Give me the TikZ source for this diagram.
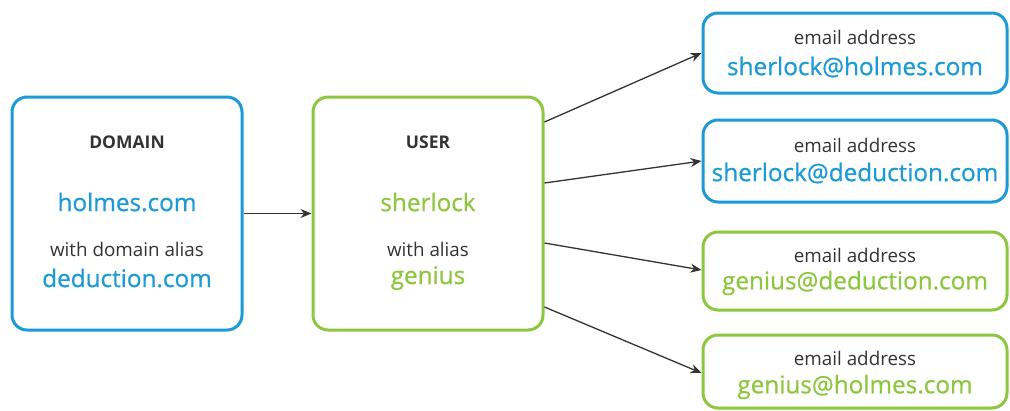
\documentclass[tikz,border=0pt]{standalone}
\usepackage{fontspec}
\setmainfont{Open Sans}
\newfontfamily\heavier{Open Sans}[FakeBold=0.7]
\usetikzlibrary{arrows.meta}
\definecolor{blu}{HTML}{1C9AD6}
\definecolor{grn}{HTML}{8DC63F}
\definecolor{txt}{HTML}{333333}
\tikzset{
  box/.style={draw, line width=3pt, rounded corners=15pt, inner sep=0pt},
  bluebox/.style={box, draw=blu},
  greenbox/.style={box, draw=grn},
  title/.style={text=txt, font=\fontsize{17.5}{19}\selectfont\bfseries, inner sep=0pt},
  small/.style={text=txt, font=\fontsize{18.8}{20}\selectfont, inner sep=0pt},
  bigb/.style={text=blu, font=\heavier\fontsize{24.3}{26}\selectfont, inner sep=0pt},
  bigg/.style={text=grn, font=\heavier\fontsize{24.3}{26}\selectfont, inner sep=0pt},
  arr/.style={draw=txt, line width=1.3pt, -{Stealth[length=11pt,width=9pt]}},
}
\begin{document}
\begin{tikzpicture}[x=1pt,y=-1pt]
\useasboundingbox (0,0) rectangle (1010,410);
% domain
\node[bluebox, minimum width=230pt, minimum height=233pt] (dom) at (127,213.5) {};
\node[title] (domt) at (127,142) {DOMAIN};
\node[bigb] (doma) at (127,202) {holmes.com};
\node[small] (domw) at (127,249) {with domain alias};
\node[bigb] (domb) at (127,278) {deduction.com};
% user
\node[greenbox, minimum width=230pt, minimum height=233pt] (usr) at (428,213.5) {};
\node[title] (usrt) at (428,142) {USER};
\node[bigg] (usra) at (428,202) {sherlock};
\node[small] (usrw) at (428,249) {with alias};
\node[bigg] (usrb) at (428,278) {genius};
% emails
\node[bluebox, minimum width=304pt, minimum height=80pt] (e1) at (855,53) {};
\node[small] (e1t) at (855,37) {email address};
\node[bigb] (e1a) at (855,67) {sherlock@holmes.com};
\node[bluebox, minimum width=304pt, minimum height=82pt] (e2) at (855,161) {};
\node[small] (e2t) at (855,145) {email address};
\node[bigb] (e2a) at (855,173) {sherlock@deduction.com};
\node[greenbox, minimum width=304pt, minimum height=78pt] (e3) at (855,271) {};
\node[small] (e3t) at (855,255) {email address};
\node[bigg] (e3a) at (855,283) {genius@deduction.com};
\node[greenbox, minimum width=304pt, minimum height=73pt] (e4) at (855,371.5) {};
\node[small] (e4t) at (855,358) {email address};
\node[bigg] (e4a) at (855,387) {genius@holmes.com};
% arrows
\draw[arr] (dom.east) -- (usr.west);
\draw[arr] (usr.east |- 0,122) -- (e1.west |- 0,53);
\draw[arr] (usr.east |- 0,183) -- (e2.west |- 0,161);
\draw[arr] (usr.east |- 0,243) -- (e3.west |- 0,270);
\draw[arr] (usr.east |- 0,307) -- (e4.west |- 0,373);
\end{tikzpicture}
\end{document}
